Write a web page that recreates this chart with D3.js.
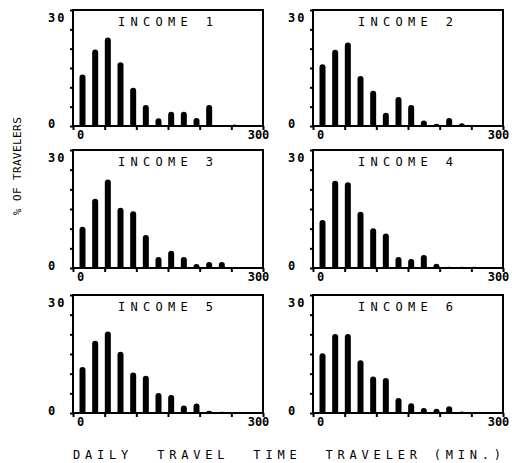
<!DOCTYPE html>
<html>
<head>
<meta charset="utf-8">
<script src="https://cdn.jsdelivr.net/npm/d3@7/dist/d3.min.js"></script>
<style>
  html, body { margin: 0; padding: 0; background: #fff; }
  svg { display: block; }
  text { font-family: "DejaVu Sans Mono", "Liberation Mono", monospace; fill: #000; }
</style>
</head>
<body>
<svg id="chart" width="512" height="463"></svg>
<script>
// ---- data ----
const bins = [15, 35, 55, 75, 95, 115, 135, 155, 175, 195, 215, 235, 255]; // minutes (bar positions)
const panelTitles = ["INCOME 1", "INCOME 2", "INCOME 3", "INCOME 4", "INCOME 5", "INCOME 6"];
const income1 = [13.3, 19.8, 22.9, 16.5, 9.9, 5.4, 2.0, 3.7, 3.7, 2.1, 5.4, 0, 0.4];
const income2 = [16.0, 19.7, 21.6, 12.9, 9.1, 3.4, 7.5, 5.4, 1.4, 0.6, 2.1, 0.7, 0];
const income3 = [10.5, 17.6, 22.5, 15.3, 14.4, 8.4, 2.8, 4.4, 2.8, 1.0, 1.5, 1.5, 0];
const income4 = [12.2, 22.2, 21.8, 14.3, 10.1, 8.8, 2.8, 2.3, 3.3, 1.1, 0.3, 0.3, 0.3];
const income5 = [11.7, 18.4, 20.7, 15.6, 10.3, 9.5, 5.1, 4.6, 1.9, 2.4, 0.6, 0.3, 0];
const income6 = [15.2, 20.1, 20.1, 13.4, 9.3, 8.9, 3.8, 2.5, 1.3, 1.1, 1.7, 0.4, 0];
const xTickValues = [0, 50, 100, 150, 200, 250, 300];
const xTickLabels = ["0", "", "", "", "", "", "300"];
const yTickValues = [0, 5, 10, 15, 20, 25, 30];
const yTickLabels = ["0", "", "", "", "", "", "30"];
const xTitle = "DAILY  TRAVEL  TIME  TRAVELER (MIN.)";
const yTitle = "% OF TRAVELERS";

const series = [income1, income2, income3, income4, income5, income6];

// ---- layout ----
const colX = [[73, 263], [313, 503]];
const rowY = [[10, 126], [150, 268], [295, 413]];
const barW = 6;

const svg = d3.select("#chart");

series.forEach((vals, i) => {
  const col = i % 2, row = Math.floor(i / 2);
  const [x0, x1] = colX[col];
  const [y0, y1] = rowY[row];
  const x = d3.scaleLinear().domain([0, 300]).range([x0, x1]);
  const y = d3.scaleLinear().domain([0, 30]).range([y1, y0]);
  const g = svg.append("g");

  // bars (rounded tops, plotter style)
  g.selectAll("path.bar").data(vals.map((v, k) => ({ t: bins[k], v })))
    .enter().append("path")
    .attr("class", "bar")
    .attr("fill", "#000")
    .attr("d", d => {
      const cx = x(d.t), top = y(d.v), bot = y(0);
      const h = bot - top;
      if (h <= 0) return "";
      const r = Math.min(barW / 2, h);
      return `M${cx - barW / 2},${bot} L${cx - barW / 2},${top + r} ` +
             `Q${cx - barW / 2},${top} ${cx},${top} Q${cx + barW / 2},${top} ${cx + barW / 2},${top + r} ` +
             `L${cx + barW / 2},${bot} Z`;
    });

  // frame
  g.append("rect")
    .attr("x", x0).attr("y", y0)
    .attr("width", x1 - x0).attr("height", y1 - y0)
    .attr("fill", "none").attr("stroke", "#000").attr("stroke-width", 2);

  // y axis ticks
  const ya = g.append("g").attr("transform", `translate(${x0},0)`)
    .call(d3.axisLeft(y).tickValues(yTickValues).tickSize(3).tickFormat(""));
  ya.select(".domain").remove();
  ya.selectAll("line").attr("stroke", "#000").attr("stroke-width", 2);

  // y labels
  yTickValues.forEach((v, k) => {
    if (!yTickLabels[k]) return;
    g.append("text")
      .attr("x", x0 - 25)
      .attr("y", v === 0 ? y(v) - 2 : y(v) + 8)
      .attr("text-anchor", "start")
      .attr("font-size", 12).attr("font-weight", "bold")
      .attr("letter-spacing", 2)
      .attr("dominant-baseline", "middle")
      .text(yTickLabels[k]);
  });

  // x axis ticks + labels
  const xa = g.append("g").attr("transform", `translate(0,${y1})`)
    .call(d3.axisBottom(x).tickValues(xTickValues).tickSize(4)
      .tickFormat((d, k) => xTickLabels[k]));
  xa.select(".domain").remove();
  xa.selectAll("line").attr("stroke", "#000").attr("stroke-width", 2);
  xa.selectAll("text")
    .attr("font-family", "DejaVu Sans Mono")
    .attr("font-size", 12).attr("font-weight", "bold")
    .attr("fill", "#000")
    .attr("y", 4)
    .attr("dx", (d) => d === 0 ? 7 : (d === 300 ? -5 : 0));

  // panel title
  g.append("text")
    .attr("x", x0 + 45).attr("y", y0 + 16)
    .attr("font-size", 12)
    .attr("letter-spacing", 5.3)
    .attr("text-anchor", "start")
    .text(panelTitles[i]);
});

// axis titles
svg.append("text")
  .attr("x", 73).attr("y", 459)
  .attr("font-size", 12)
  .attr("letter-spacing", 4.8)
  .attr("xml:space", "preserve")
  .style("white-space", "pre")
  .text(xTitle);

svg.append("text")
  .attr("transform", "translate(21,166) rotate(-90)")
  .attr("text-anchor", "middle")
  .attr("font-size", 11)
  .attr("letter-spacing", 0.4)
  .text(yTitle);
</script>
</body>
</html>
